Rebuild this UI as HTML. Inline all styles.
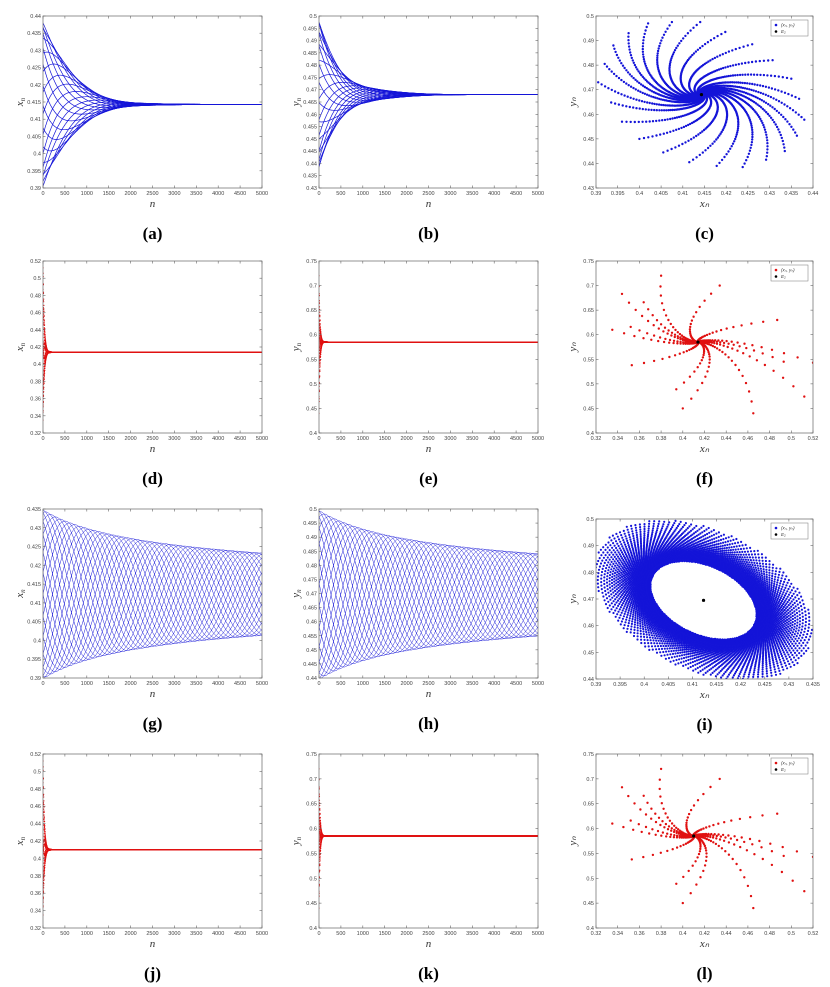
<!DOCTYPE html>
<html><head><meta charset="utf-8"><style>
html,body{margin:0;padding:0;background:#fff;}
svg{display:block;}
text{font-family:"Liberation Sans",sans-serif;}
.tl{font-size:5.5px;fill:#444;}
.ax{font-family:"Liberation Serif",serif;font-style:italic;font-size:11px;fill:#333;}
.cap{font-family:"Liberation Serif",serif;font-weight:bold;font-size:17px;fill:#000;}
</style></head><body>
<svg id="fig" width="830" height="987" viewBox="0 0 830 987" xmlns="http://www.w3.org/2000/svg"></svg>
<script>
// ---- data ----
const nTicks = [0,500,1000,1500,2000,2500,3000,3500,4000,4500,5000];
const aYTicks = [0.39,0.395,0.4,0.405,0.41,0.415,0.42,0.425,0.43,0.435,0.44];
const bYTicks = [0.43,0.435,0.44,0.445,0.45,0.455,0.46,0.465,0.47,0.475,0.48,0.485,0.49,0.495,0.5];
const cXTicks = [0.39,0.395,0.4,0.405,0.41,0.415,0.42,0.425,0.43,0.435,0.44];
const cYTicks = [0.43,0.44,0.45,0.46,0.47,0.48,0.49,0.5];
const dYTicks = [0.32,0.34,0.36,0.38,0.4,0.42,0.44,0.46,0.48,0.5,0.52];
const eYTicks = [0.4,0.45,0.5,0.55,0.6,0.65,0.7,0.75];
const fXTicks = [0.32,0.34,0.36,0.38,0.4,0.42,0.44,0.46,0.48,0.5,0.52];
const gYTicks = [0.39,0.395,0.4,0.405,0.41,0.415,0.42,0.425,0.43,0.435];
const hYTicks = [0.44,0.445,0.45,0.455,0.46,0.465,0.47,0.475,0.48,0.485,0.49,0.495,0.5];
const iXTicks = [0.39,0.395,0.4,0.405,0.41,0.415,0.42,0.425,0.43,0.435];
const iYTicks = [0.44,0.45,0.46,0.47,0.48,0.49,0.5];
// equilibria
const E1 = [0.4143, 0.468];
const E2 = [0.414, 0.585];
const E3 = [0.4123, 0.4695];
const E4 = [0.41, 0.585];
// initial points for stable focus (a-c)
const startsX1 = [0.3905,0.392,0.394,0.3975,0.402,0.4075,0.414,0.4198,0.426,0.4307,0.435,0.4368,0.438,0.4363,0.4335,0.4292,0.4238,0.4178,0.4115,0.4055,0.400,0.396,0.3935];
const startsY1 = [0.473,0.4805,0.488,0.493,0.497,0.4975,0.4975,0.4935,0.4885,0.482,0.4745,0.4663,0.4578,0.4513,0.445,0.4415,0.4385,0.439,0.4405,0.4445,0.450,0.457,0.4648];
// initial points for fast focus (d-f, j-l)
const startsX2 = [0.38,0.344,0.335,0.353,0.394,0.40,0.465,0.512,0.52,0.493,0.487,0.434,0.364,0.352];
const startsY2 = [0.72,0.683,0.61,0.538,0.489,0.45,0.44,0.474,0.543,0.545,0.63,0.70,0.666,0.616];
// model parameters
const rate1 = 0.9982, turn1 = 0.0013;
const rate2 = 0.85, turn2 = 0.05;
const ampX3 = 0.0225, ampY3 = 0.030, omega3 = 2*Math.PI/2600, decay3 = 0.00032, shift3 = 1.95;
const phaseCount3 = 24;

// ---- helpers ----
const NS = "http://www.w3.org/2000/svg";
const fig = document.getElementById('fig');
const defs = document.createElementNS(NS,'defs'); fig.appendChild(defs);
function el(tag, attrs, parent){const e=document.createElementNS(NS,tag);for(const k in attrs)e.setAttribute(k,attrs[k]);(parent||fig).appendChild(e);return e;}
function fmt(v){return String(+v.toFixed(4));}
function sim(x0,y0,E,r,th,N){const xs=[x0],ys=[y0];let u=x0-E[0],v=y0-E[1];const c=Math.cos(th)*r,s=Math.sin(th)*r;for(let i=0;i<N;i++){const nu=c*u-s*v,nv=s*u+c*v;u=nu;v=nv;xs.push(E[0]+u);ys.push(E[1]+v);}return [xs,ys];}
function sim3(phi,N){const xs=[],ys=[];let a=1;for(let n=0;n<=N;n++){const t=phi+omega3*n;xs.push(E3[0]+ampX3*a*Math.cos(t));ys.push(E3[1]+ampY3*a*Math.cos(t+shift3));a=a*(1-decay3*a*a);}return [xs,ys];}

function axes(id, box, xd, yd, xt, yt, xlab, ylab){
  const g=el('g',{});
  
  
  const [L,T,R,B]=box;
  const cp=el('clipPath',{id:'clip-'+id},defs);
  el('rect',{x:L,y:T,width:R-L,height:B-T},cp);
  const sx=v=>L+(v-xd[0])/(xd[1]-xd[0])*(R-L);
  const sy=v=>B-(v-yd[0])/(yd[1]-yd[0])*(B-T);
  const plot=el('g',{'clip-path':'url(#clip-'+id+')'},g);
  
  
  const fr=el('rect',{x:L,y:T,width:R-L,height:B-T,fill:'none',stroke:'#666','stroke-width':0.7},g);
  
  
  const xg=el('g',{},g);
  
  
  xt.forEach(v=>{const x=sx(v);
    el('line',{x1:x,x2:x,y1:B,y2:B-2.5,stroke:'#666','stroke-width':0.6},xg);
    el('line',{x1:x,x2:x,y1:T,y2:T+2.5,stroke:'#666','stroke-width':0.6},xg);
    const t=el('text',{x:x,y:B+7,'text-anchor':'middle',class:'tl'},xg);t.textContent=fmt(v);
    
    });
  const yg=el('g',{},g);
  
  
  yt.forEach(v=>{const y=sy(v);
    el('line',{x1:L,x2:L+2.5,y1:y,y2:y,stroke:'#666','stroke-width':0.6},yg);
    el('line',{x1:R,x2:R-2.5,y1:y,y2:y,stroke:'#666','stroke-width':0.6},yg);
    const t=el('text',{x:L-2,y:y+2,'text-anchor':'end',class:'tl'},yg);t.textContent=fmt(v);
    
    });
  const xl=el('text',{x:(L+R)/2,y:B+19,'text-anchor':'middle',class:'ax','font-size':xlab.s},g);xl.textContent=xlab.t;
  
  
  const yl=el('text',{x:0,y:0,'text-anchor':'middle',class:'ax','font-size':ylab.s,transform:`translate(${L-20},${(T+B)/2}) rotate(-90)`},g);
  yl.innerHTML=ylab.t;
  
  
  const c=el('text',{x:(L+R)/2,y:B+51,'text-anchor':'middle',class:'cap'},g);c.textContent='('+id+')';
  
  
  return {sx,sy,plot,box};
}
function legend(ax,col,id){
  const [L,T,R,B]=ax.box;
  const g=el('g',{});
  
  
  el('rect',{x:R-42,y:T+4,width:37,height:16,fill:'#fff',stroke:'#777','stroke-width':0.5},g);
  el('circle',{cx:R-37,cy:T+9,r:1.3,fill:col},g);
  el('circle',{cx:R-37,cy:T+15.5,r:1.3,fill:'#000'},g);
  const t1=el('text',{x:R-32,y:T+10.5,'font-size':4.5,'font-family':'Liberation Serif','font-style':'italic',fill:'#333'},g);t1.textContent='(xₙ, yₙ)';
  
  
  const t2=el('text',{x:R-32,y:T+17,'font-size':4.5,'font-family':'Liberation Serif','font-style':'italic',fill:'#333'},g);t2.textContent='E₂';
  
  
}
function poly(ax,xs,ys,step,col,w,name){
  let d='';for(let i=0;i<xs.length;i+=step){d+=(i?'L':'M')+ax.sx(xs[i]).toFixed(1)+' '+ax.sy(ys[i]).toFixed(1);}
  const last=xs.length-1;d+='L'+ax.sx(xs[last]).toFixed(1)+' '+ax.sy(ys[last]).toFixed(1);
  const p=el('path',{d:d,fill:'none',stroke:col,'stroke-width':w},ax.plot);
  
  
}
function dots(ax,xs,ys,step,col,r,name,maxN){
  let d='';const m=Math.min(maxN||xs.length,xs.length);
  for(let i=0;i<m;i+=step){const x=ax.sx(xs[i]),y=ax.sy(ys[i]);d+=`M${(x-r).toFixed(1)} ${y.toFixed(1)}a${r} ${r} 0 1 0 ${2*r} 0a${r} ${r} 0 1 0 ${-2*r} 0`;}
  const p=el('path',{d:d,fill:col,stroke:'none'},ax.plot);
  
  
}
function eq(ax,E,name){const c=el('circle',{cx:ax.sx(E[0]),cy:ax.sy(E[1]),r:1.6,fill:'#000'},ax.plot);
  
  }

const col1=[43,262],col2=[319,538],col3=[596,813];
const rows=[[16,188],[261,433],[509,678],[754,928]];
const BLUE='#1414d8', RED='#e01010';
const nDom=[0,5000];
const XL={t:'n',s:11};
const XN={t:'x<tspan font-size="7" dy="2">n</tspan>',s:10};
const YN={t:'y<tspan font-size="7" dy="2">n</tspan>',s:10};
const XS={t:'xₙ',s:7}, YS={t:'yₙ',s:7};

// trajectories (a-c)
const traj1 = startsX1.map((x,i)=>sim(x,startsY1[i],E1,rate1,turn1,5000));
const a=axes('a',[col1[0],rows[0][0],col1[1],rows[0][1]],nDom,[0.39,0.44],nTicks,aYTicks,XL,XN);
const b=axes('b',[col2[0],rows[0][0],col2[1],rows[0][1]],nDom,[0.43,0.5],nTicks,bYTicks,XL,YN);
const c=axes('c',[col3[0],rows[0][0],col3[1],rows[0][1]],[0.39,0.44],[0.43,0.5],cXTicks,cYTicks,XS,YS);
const nIdx=[...Array(5001).keys()];
traj1.forEach(([xs,ys])=>{
  poly(a,nIdx,xs,10,BLUE,0.7,'series-xn');
  poly(b,nIdx,ys,10,BLUE,0.7,'series-yn');
  dots(c,xs,ys,22,BLUE,1.2,'phase-trajectory',3200);
});
eq(c,E1,'equilibrium-point');legend(c,BLUE,'c');

// (d-f) and (j-l)
function fastSet(ids,row,E){
  const tr=startsX2.map((x,i)=>sim(x,startsY2[i],E,rate2,turn2,1250));
  const d=axes(ids[0],[col1[0],rows[row][0],col1[1],rows[row][1]],nDom,[0.32,0.52],nTicks,dYTicks,XL,XN);
  const e=axes(ids[1],[col2[0],rows[row][0],col2[1],rows[row][1]],nDom,[0.4,0.75],nTicks,eYTicks,XL,YN);
  const f=axes(ids[2],[col3[0],rows[row][0],col3[1],rows[row][1]],[0.32,0.52],[0.4,0.75],fXTicks,eYTicks,XS,YS);
  const stepN=[...Array(1251).keys()].map(i=>i*4);
  tr.forEach(([xs,ys])=>{
    dots(d,stepN,xs,1,RED,0.6,'series-xn',50);
    dots(e,stepN,ys,1,RED,0.6,'series-yn',50);
    poly(d,stepN.slice(30),xs.slice(30),25,RED,1.2,'series-xn-line');
    poly(e,stepN.slice(30),ys.slice(30),25,RED,1.2,'series-yn-line');
    dots(f,xs,ys,1,RED,1.2,'phase-trajectory',60);
  });
  eq(f,E,'equilibrium-point');legend(f,RED,ids[2]);
}
fastSet(['d','e','f'],1,E2);

// (g-i)
const traj3=[];for(let k=0;k<phaseCount3;k++)traj3.push(sim3(2*Math.PI*k/phaseCount3,5000));
const g=axes('g',[col1[0],rows[2][0],col1[1],rows[2][1]],nDom,[0.39,0.435],nTicks,gYTicks,XL,XN);
const h=axes('h',[col2[0],rows[2][0],col2[1],rows[2][1]],nDom,[0.44,0.5],nTicks,hYTicks,XL,YN);
const ii=axes('i',[col3[0],519,col3[1],679],[0.39,0.435],[0.44,0.5],iXTicks,iYTicks,XS,YS);
traj3.forEach(([xs,ys])=>{
  poly(g,nIdx,xs,10,BLUE,0.5,'series-xn');
  poly(h,nIdx,ys,10,BLUE,0.5,'series-yn');
  dots(ii,xs,ys,20,BLUE,1.1,'phase-trajectory');
});
eq(ii,E3,'equilibrium-point');legend(ii,BLUE,'i');

fastSet(['j','k','l'],3,E4);
</script>
</body></html>
